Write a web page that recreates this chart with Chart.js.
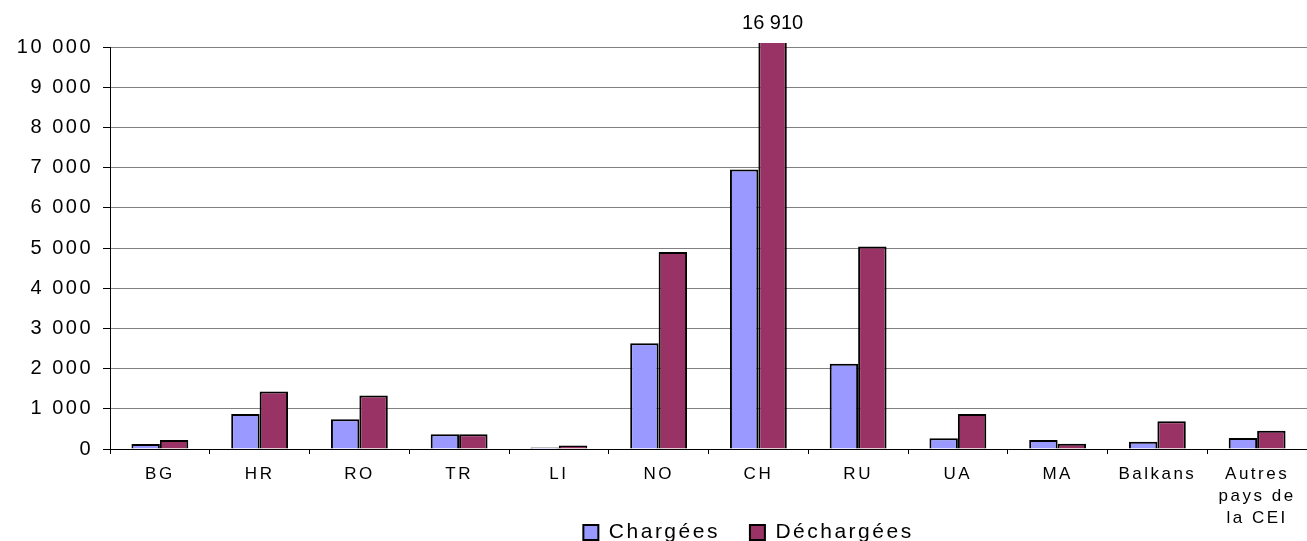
<!DOCTYPE html>
<html lang="fr">
<head>
<meta charset="utf-8">
<title>Marchandises chargées et déchargées</title>
<script src="https://cdn.jsdelivr.net/npm/chart.js@4/dist/chart.umd.min.js"></script>
<style>
    html, body { margin: 0; padding: 0; background: #fff; }
    #wrap { width: 1307px; height: 541px; position: relative; }
</style>
</head>
<body>
<div id="wrap"><canvas id="trafficChart"></canvas></div>
<script>
// --- Data ---
const categories = ['BG', 'HR', 'RO', 'TR', 'LI', 'NO', 'CH', 'RU', 'UA', 'MA', 'Balkans', ['Autres', 'pays de', 'la CEI']];
const chargees = [125, 870, 740, 365, 40, 2630, 6950, 2120, 265, 225, 180, 275];
const dechargees = [225, 1430, 1330, 365, 85, 4900, 16910, 5040, 870, 130, 690, 455];
const yTicks = [0, 1000, 2000, 3000, 4000, 5000, 6000, 7000, 8000, 9000, 10000];

const FONT = "'Liberation Sans', Arial, sans-serif";

// espace comme séparateur de milliers
function fmt(v) {
    return String(v).replace(/\B(?=(\d{3})+(?!\d))/g, ' ');
}

// Lettres espacées, comme dans l'original
const spacingPlugin = {
    id: 'spacing',
    beforeUpdate(chart) { chart.ctx.letterSpacing = '2.5px'; },
    beforeDraw(chart) { chart.ctx.letterSpacing = '2.5px'; }
};

// Légende décalée vers la droite / le bas, étiquettes x non rognées
const layoutTweaks = {
    id: 'layoutTweaks',
    afterLayout(chart) {
        const lg = chart.legend;
        lg.left += 95; lg.right += 95;
        lg.top += 12; lg.bottom += 12;
        chart.scales.x.bottom = chart.height;
    }
};

// Valeur écrite au-dessus des barres qui dépassent l'axe
const overflowLabel = {
    id: 'overflowLabel',
    afterDatasetsDraw(chart) {
        const ctx = chart.ctx;
        const yMax = chart.scales.y.max;
        ctx.save();
        ctx.letterSpacing = '0px';
        ctx.font = '20px ' + FONT;
        ctx.fillStyle = '#000';
        ctx.textAlign = 'center';
        ctx.textBaseline = 'middle';
        chart.data.datasets.forEach((ds, i) => {
            const meta = chart.getDatasetMeta(i);
            ds.data.forEach((v, j) => {
                if (v > yMax) {
                    ctx.fillText(fmt(v), meta.data[j].x, chart.chartArea.top - 24);
                }
            });
        });
        ctx.restore();
    }
};

new Chart(document.getElementById('trafficChart').getContext('2d'), {
    type: 'bar',
    data: {
        labels: categories,
        datasets: [{
            label: 'Chargées',
            data: chargees,
            backgroundColor: '#9999FF',
            borderColor: '#000',
            borderWidth: 2
        }, {
            label: 'Déchargées',
            data: dechargees,
            backgroundColor: '#993366',
            borderColor: '#000',
            borderWidth: 2,
            clip: { left: false, top: 4, right: false, bottom: 0 }
        }]
    },
    options: {
        responsive: true,
        maintainAspectRatio: false,
        animation: false,
        datasets: { bar: { barPercentage: 1, categoryPercentage: 0.57 } },
        layout: { padding: { top: 47, left: 0, right: 0, bottom: 0 } },
        plugins: {
            tooltip: { enabled: false },
            legend: {
                position: 'bottom',
                labels: {
                    color: '#000',
                    boxWidth: 15,
                    boxHeight: 15,
                    padding: 30,
                    font: { family: FONT, size: 21 }
                }
            }
        },
        scales: {
            x: {
                offset: true,
                grid: { offset: true, drawOnChartArea: false, tickLength: 5, tickColor: '#000' },
                border: { color: '#000', width: 1 },
                ticks: {
                    color: '#000',
                    padding: 9,
                    maxRotation: 0,
                    autoSkip: false,
                    font: { family: FONT, size: 17, lineHeight: 1.3 }
                },
                afterFit(scale) { scale.height = 31; }
            },
            y: {
                min: 0,
                max: 10000,
                afterBuildTicks(scale) { scale.ticks = yTicks.map(v => ({ value: v })); },
                grid: { color: '#808080', lineWidth: 1, tickLength: 7, tickColor: '#000' },
                border: { color: '#000', width: 1 },
                ticks: {
                    color: '#000',
                    padding: 10,
                    font: { family: FONT, size: 20 },
                    callback: v => fmt(v)
                },
                afterFit(scale) { scale.width = 110; }
            }
        }
    },
    plugins: [spacingPlugin, layoutTweaks, overflowLabel]
});
</script>
</body>
</html>
